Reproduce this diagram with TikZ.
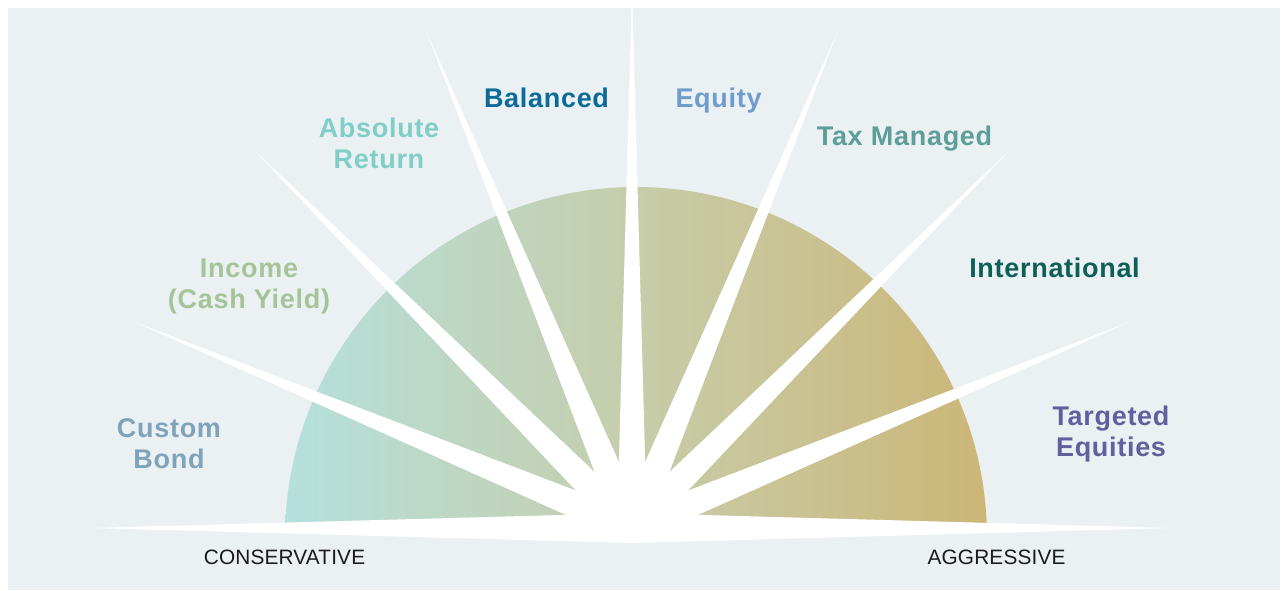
\documentclass[tikz,border=0pt]{standalone}
\usepackage{fontspec}
\setmainfont{Liberation Sans}
\newfontfamily\labfont[LetterSpace=2.6]{Liberation Sans Bold}
\newfontfamily\endfont[LetterSpace=0.8]{Liberation Sans}
\usetikzlibrary{calc}
\definecolor{bgc}{HTML}{EBF0F3}
\definecolor{shl}{HTML}{B5E0DC}
\definecolor{shm}{HTML}{C6CDAA}
\definecolor{shr}{HTML}{CCB677}
\definecolor{cbond}{HTML}{7FA3BA}
\definecolor{cincome}{HTML}{A5C498}
\definecolor{cabs}{HTML}{7FCFC8}
\definecolor{cbal}{HTML}{0B6A98}
\definecolor{ceq}{HTML}{6F9DCB}
\definecolor{ctax}{HTML}{5D9F98}
\definecolor{cint}{HTML}{0D5F58}
\definecolor{ctarg}{HTML}{635F9F}
\definecolor{cend}{HTML}{1A1A1A}
\tikzset{
  lab/.style={inner sep=0pt, anchor=base, font=\labfont\fontsize{27}{31}\selectfont},
  endlab/.style={inner sep=0pt, anchor=base, text=cend, font=\endfont\fontsize{20.8}{24}\selectfont},
  raystyle/.style={fill=white, draw=none}
}
\newcommand{\twoline}[2]{\begin{tabular}[b]{@{}c@{}}#1\\#2\end{tabular}}
\begin{document}
\begin{tikzpicture}[x=1pt,y=-1pt]
\useasboundingbox (0,0) rectangle (1285,590);
\fill[white] (0,0) rectangle (1285,590);
\fill[bgc] (7.5,7.5) rectangle (1280,590);
\coordinate (hub) at (632,528);
\coordinate (semi) at (636,538);
% semicircle
\begin{scope}
  \clip (0,0) rectangle (1285,523);
  \shade[left color=shl, right color=shr, middle color=shm] (semi) circle (351);
\end{scope}
% rays
\foreach \a/\L in {0/540, 22.5/537, 45/534, 67.5/536, 90/540, 112.5/536, 135/534, 157.5/538, 180/542}{
  \fill[raystyle] ($(hub)+(-\a:\L)$) -- ($(hub)+(-\a+90:15)$) -- ($(hub)+(-\a-90:15)$) -- cycle;
}
% labels
\node[lab, text=cbond] (bond) at (169,468) {\twoline{Custom}{Bond}};
\node[lab, text=cincome] (income) at (249,308) {\twoline{Income}{(Cash Yield)}};
\node[lab, text=cabs] (abs) at (379,168) {\twoline{Absolute}{Return}};
\node[lab, text=cbal] (bal) at (546.5,107) {Balanced};
\node[lab, text=ceq] (eq) at (718.5,107) {Equity};
\node[lab, text=ctax] (tax) at (904.5,145) {Tax Managed};
\node[lab, text=cint] (int) at (1054.5,277) {International};
\node[lab, text=ctarg] (targ) at (1111,456) {\twoline{Targeted}{Equities}};
\node[endlab] (cons) at (284.5,564) {CONSERVATIVE};
\node[endlab] (aggr) at (996.5,564) {AGGRESSIVE};
\end{tikzpicture}
\end{document}
